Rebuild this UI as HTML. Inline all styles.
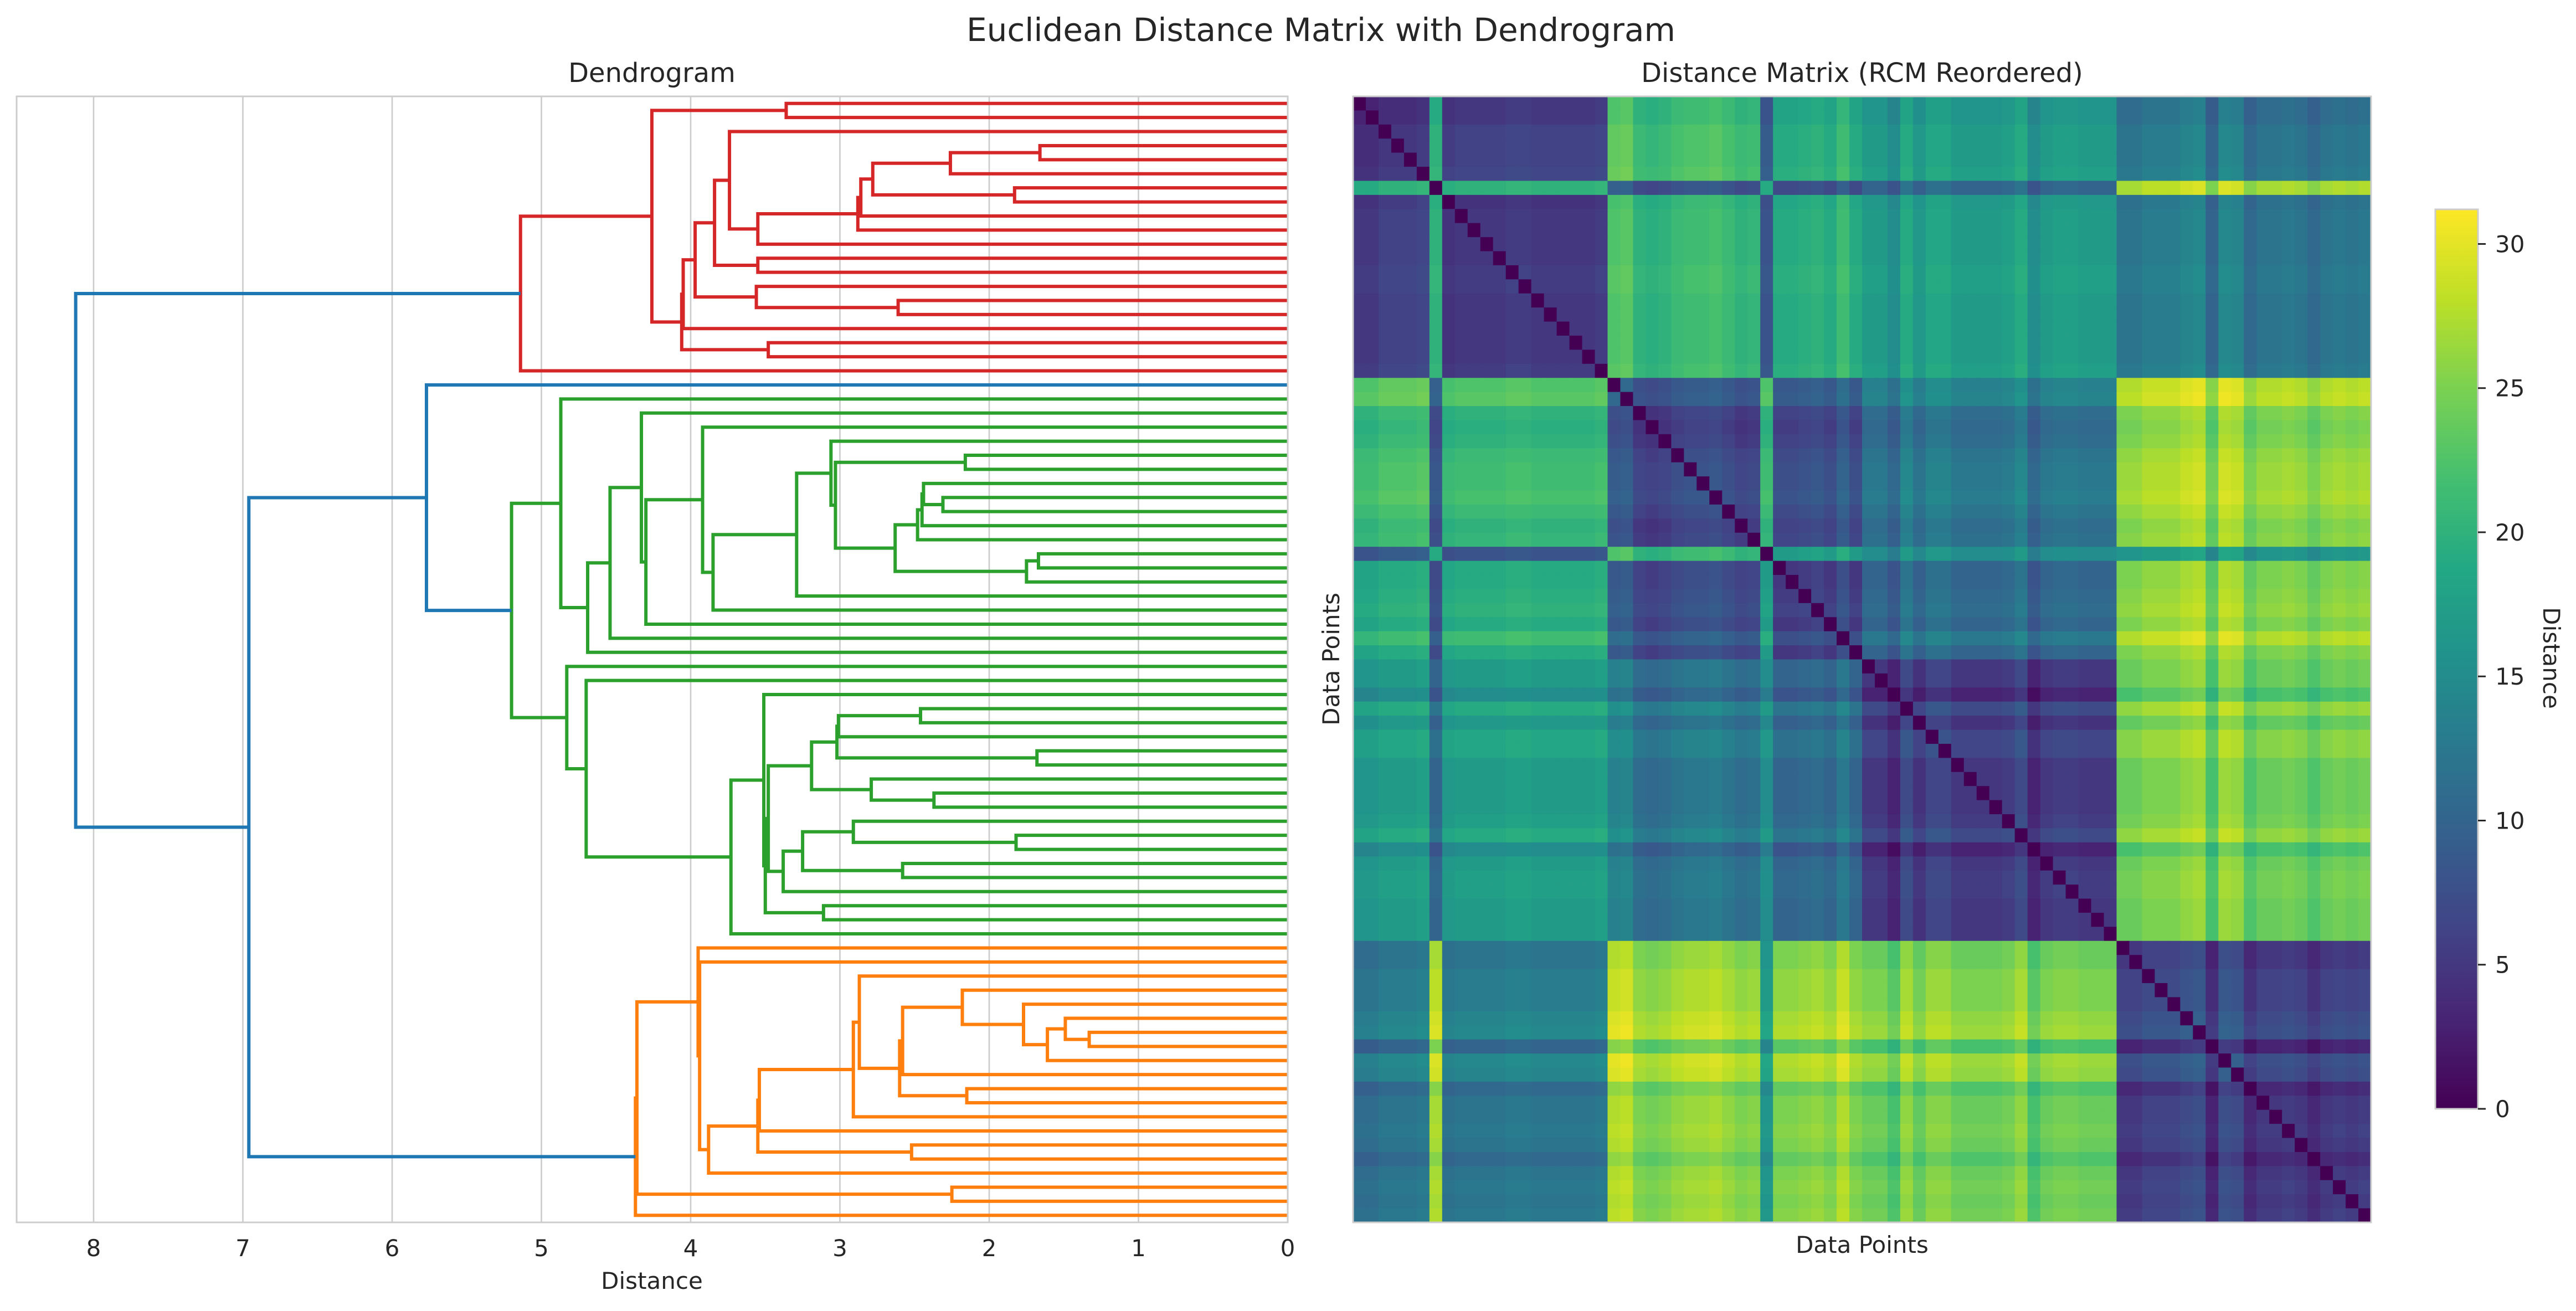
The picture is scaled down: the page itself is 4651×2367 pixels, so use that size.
<!DOCTYPE html>
<html><head><meta charset="utf-8"><title>Euclidean Distance Matrix with Dendrogram</title>
<style>html,body{margin:0;padding:0;background:#fff;}svg{display:block;}text{font-family:"DejaVu Sans","Liberation Sans",sans-serif;fill:#262626;}</style>
</head><body>
<svg id="fig" xmlns="http://www.w3.org/2000/svg" width="4651" height="2367" viewBox="0 0 4651 2367">
<rect x="0" y="0" width="4651" height="2367" fill="#fff"/>
<text x="2385" y="74" font-size="58" text-anchor="middle">Euclidean Distance Matrix with Dendrogram</text>
<text x="1177" y="148" font-size="48" text-anchor="middle">Dendrogram</text>
<text x="3362" y="148" font-size="48" text-anchor="middle">Distance Matrix (RCM Reordered)</text>
<g id="dendro"></g>
<g id="heat"></g>
<g id="cbar"></g>
<text x="1177" y="2327" font-size="42" text-anchor="middle">Distance</text>
<text x="3362" y="2262" font-size="42" text-anchor="middle">Data Points</text>
<text x="0" y="0" font-size="42" text-anchor="middle" transform="translate(2418,1190) rotate(-90)">Data Points</text>
<text x="0" y="0" font-size="42" text-anchor="middle" transform="translate(4592,1188) rotate(90)">Distance</text>
</svg>
<script>
// ---------- Dendrogram data ----------
const N_LEAVES = 80;
const mergeA = [3,80,6,81,83,84,85,2,11,87,14,13,89,92,17,93,0,96,97,
  25,28,27,101,102,32,104,103,99,24,108,109,23,111,22,113,114,21,43,117,46,118,49,48,120,52,51,54,125,127,123,57,129,42,132,41,40,116,20,
  66,65,139,64,63,142,70,143,62,146,147,74,148,150,61,60,77,153,155,137,98];
const mergeB = [4,5,7,82,8,9,10,86,12,88,15,90,91,16,18,94,1,95,19,
  26,29,100,30,31,33,34,105,106,107,35,36,110,37,112,38,39,115,44,45,47,119,50,121,122,53,124,55,126,56,128,58,130,131,59,133,134,135,136,
  67,138,68,140,141,69,71,144,145,72,73,75,149,76,151,152,78,154,79,156,157];
const mergeH = [1.66,2.26,1.83,2.78,2.86,2.88,3.55,3.74,3.55,3.84,2.61,3.56,3.97,4.05,3.48,4.06,3.36,4.26,5.14,
  2.16,2.31,2.44,2.45,2.48,1.67,1.75,2.63,3.03,3.06,3.29,3.85,3.92,4.30,4.33,4.54,4.69,4.87,2.46,3.01,1.68,3.02,2.37,2.79,3.19,1.82,2.91,2.58,3.25,3.38,3.48,3.11,3.50,3.51,3.73,4.70,4.83,5.20,5.77,
  1.33,1.49,1.61,1.77,2.18,2.58,2.15,2.60,2.87,2.91,3.54,2.52,3.55,3.88,3.94,3.95,2.25,4.36,4.37,6.96,8.12];
const clusterRoots = [98,136,156];
const clusterColors = ['#d62728','#2ca02c','#ff7f0e'];
const aboveColor = '#1f77b4';
const xTicks = [8,7,6,5,4,3,2,1,0];

// ---------- Heatmap data ----------
const rowGroup = [0,0,0,0,0,0,1,2,2,2,2,2,2,2,2,2,2,2,2,2,
  3,3,3,3,3,3,3,3,3,3,3,3,4,5,5,5,5,5,5,5,
  6,6,6,6,6,6,6,6,6,6,6,6,6,6,6,6,6,6,6,6,
  7,7,7,7,7,7,7,7,7,7,7,7,7,7,7,7,7,7,7,7];
const groupBase = [
  [5,20,6,21,9,19,17,12],
  [20,0,20,7,19,7,10,27],
  [6,20,5,20,8,19,17,12],
  [21,7,20,5,20,6,11,25],
  [9,19,8,20,0,17,15,16],
  [19,7,19,6,17,5,10,25],
  [17,10,17,11,15,10,5,24],
  [12,27,12,25,16,25,24,5]];
const rowOffset = [-1,-1,0,0,0,0.5,0,-0.5,0,0,0,0,0.5,0.5,0,0,0,0,0,0.5,
  2.5,3,0,-0.5,0,1,1.5,1.5,2,1,0,0.5,0,0,0,0.5,1,0,2.5,0,
  0,0,-2,2,-0.5,1.5,1.5,0,0,0,0,0.5,2,-2,0,0.5,0.5,0,0,0,
  0,0,1,1,1,2,2.5,-2,2.5,2,-1.5,0,0,0.5,0,-1.5,0,0.5,0,0.5];
const vMin = 0, vMax = 31.2;
const cbarTicks = [0,5,10,15,20,25,30];

const NS = 'http://www.w3.org/2000/svg';
function mk(tag, attrs, parent){ const e=document.createElementNS(NS,tag); for(const k in attrs) e.setAttribute(k,attrs[k]); parent.appendChild(e); return e; }

const D = {left:30, right:2325, top:174, bottom:2207};
const pxPerUnit = 269.5;
const xScale = d => D.right - d*pxPerUnit;
const yScale = i => D.top + (i+0.5)*(D.bottom-D.top)/N_LEAVES;
const dg = document.getElementById('dendro');
mk('rect',{x:D.left,y:D.top,width:D.right-D.left,height:D.bottom-D.top,fill:'#fff'},dg);
xTicks.forEach(t=>{
  const g=mk('line',{x1:xScale(t),x2:xScale(t),y1:D.top,y2:D.bottom,stroke:'#cccccc','stroke-width':2.6},dg);
  
  
  const tx=mk('text',{x:xScale(t),y:2268,'font-size':42,'text-anchor':'middle'},dg);
  tx.textContent=String(t);
  
  
});
const nodeY = [], nodeH = [], nodeColor = [];
for(let i=0;i<N_LEAVES;i++){ nodeY[i]=yScale(i); nodeH[i]=0; }
for(let k=0;k<mergeH.length;k++){ const id=N_LEAVES+k; nodeY[id]=(nodeY[mergeA[k]]+nodeY[mergeB[k]])/2; nodeH[id]=mergeH[k]; nodeColor[id]=aboveColor; }
function paint(id,c){ if(id<N_LEAVES) return; nodeColor[id]=c; const k=id-N_LEAVES; paint(mergeA[k],c); paint(mergeB[k],c); }
clusterRoots.forEach((r,i)=>paint(r,clusterColors[i]));
for(let k=0;k<mergeH.length;k++){
  const id=N_LEAVES+k, a=mergeA[k], b=mergeB[k];
  const x=xScale(mergeH[k]);
  const p=mk('path',{d:`M${xScale(nodeH[a])},${nodeY[a]}H${x}V${nodeY[b]}H${xScale(nodeH[b])}`,fill:'none',stroke:nodeColor[id],'stroke-width':6,'stroke-linejoin':'miter'},dg);
  
  
}
const fr=mk('rect',{x:D.left,y:D.top,width:D.right-D.left,height:D.bottom-D.top,fill:'none',stroke:'#cccccc','stroke-width':3},dg);



const H = {left:2443, right:4281, top:174, bottom:2207};
const n = rowGroup.length;
const cw=(H.right-H.left)/n, ch=(H.bottom-H.top)/n;
const vir=['#440154','#482475','#414487','#355f8d','#2a788e','#21918c','#22a884','#44bf70','#7ad151','#bddf26','#fde725'];
function hex(c){return [parseInt(c.substr(1,2),16),parseInt(c.substr(3,2),16),parseInt(c.substr(5,2),16)];}
const virRGB=vir.map(hex);
function colorOf(v){ let t=(v-vMin)/(vMax-vMin); t=Math.max(0,Math.min(1,t)); const s=t*10, i=Math.min(9,Math.floor(s)), f=s-i; const a=virRGB[i], b=virRGB[i+1]; return `rgb(${Math.round(a[0]+(b[0]-a[0])*f)},${Math.round(a[1]+(b[1]-a[1])*f)},${Math.round(a[2]+(b[2]-a[2])*f)})`; }
const hg=document.getElementById('heat');
for(let i=0;i<n;i++){ for(let j=0;j<n;j++){
  const v = i===j ? 0 : Math.max(0, groupBase[rowGroup[i]][rowGroup[j]] + rowOffset[i] + rowOffset[j]);
  const r=mk('rect',{x:(H.left+j*cw).toFixed(2),y:(H.top+i*ch).toFixed(2),width:(cw+0.6).toFixed(2),height:(ch+0.6).toFixed(2),fill:colorOf(v)},hg);
  
  
}}
const hf=mk('rect',{x:H.left,y:H.top,width:H.right-H.left,height:H.bottom-H.top,fill:'none',stroke:'#cccccc','stroke-width':3},hg);



const C = {left:4397, right:4474, top:378, bottom:2002};
const cg=document.getElementById('cbar');
const defs=mk('defs',{},cg);
const lg=mk('linearGradient',{id:'virGrad',x1:0,y1:1,x2:0,y2:0},defs);
vir.forEach((c,i)=>mk('stop',{offset:(i/10),'stop-color':c},lg));
const cb=mk('rect',{x:C.left,y:C.top,width:C.right-C.left,height:C.bottom-C.top,fill:'url(#virGrad)',stroke:'#cccccc','stroke-width':3},cg);


const cy = v => C.bottom - (v-vMin)/(vMax-vMin)*(C.bottom-C.top);
cbarTicks.forEach(t=>{
  const l=mk('line',{x1:C.right,x2:C.right+14,y1:cy(t),y2:cy(t),stroke:'#262626','stroke-width':3},cg);
  
  
  const tx=mk('text',{x:4505,y:cy(t)+15,'font-size':42},cg);
  tx.textContent=String(t);
  
  
});
</script>
</body></html>
